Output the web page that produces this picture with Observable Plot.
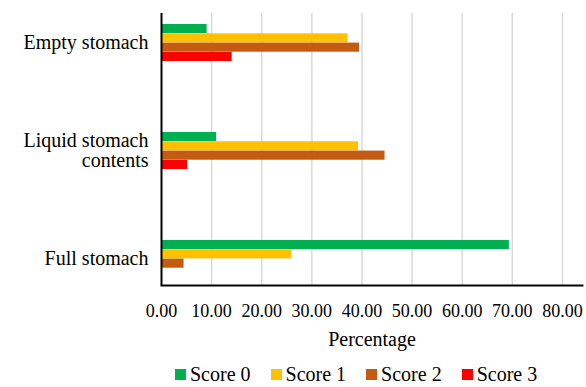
<!DOCTYPE html>
<html>
<head>
<meta charset="utf-8">
<script src="https://cdn.jsdelivr.net/npm/d3@7"></script>
<script src="https://cdn.jsdelivr.net/npm/@observablehq/plot@0.6"></script>
<style>
  body { margin: 0; background: #fff; font-family: "Liberation Serif", "Times New Roman", Tinos, "DejaVu Serif", serif; }
  #chart { width: 586px; }
  .legend { display: flex; align-items: center; height: 25px; padding-left: 175px; gap: 20px; font-size: 20px; color: #000; }
  .legend .item { display: flex; align-items: center; }
  .legend .sw { width: 11px; height: 11px; margin-right: 4px; }
</style>
</head>
<body>
<div id="chart"></div>
<script>
// Stomach state categories and the share (%) of each score within them
const categories = ["Empty stomach", "Liquid stomach\ncontents", "Full stomach"];
const seriesNames = ["Score 0", "Score 1", "Score 2", "Score 3"];
const seriesColors = ["#00b050", "#ffc000", "#c55a11", "#ff0000"];
const score0 = [9.1, 11.0, 69.4];
const score1 = [37.2, 39.3, 26.0];
const score2 = [39.5, 44.6, 4.5];
const score3 = [14.1, 5.2, 0];
const xTicks = [0, 10, 20, 30, 40, 50, 60, 70, 80];

const seriesValues = [score0, score1, score2, score3];
const rows = seriesNames.flatMap((s, i) =>
  categories.map((c, j) => ({category: c, series: s, value: seriesValues[i][j]}))
);

const serif = "'Liberation Serif', 'Times New Roman', Tinos, 'DejaVu Serif', serif";

// Band layout: each category band holds four bars side by side
const yRange = [24, 277.5];
const paddingInner = 0.656;
const bandwidth = (yRange[1] - yRange[0]) / (categories.length - paddingInner) * (1 - paddingInner);
const barH = bandwidth / seriesNames.length;

const bars = seriesNames.map((s, i) =>
  Plot.barX(rows.filter(d => d.series === s), {
    x: "value",
    y: "category",
    fill: "series",
    insetTop: i * barH,
    insetBottom: (seriesNames.length - 1 - i) * barH
  })
);

const chart = Plot.plot({
  width: 586,
  height: 362,
  marginTop: 13,
  marginBottom: 77,
  marginLeft: 161,
  marginRight: 4,
  style: {fontFamily: serif, fontSize: "17px", color: "#000", background: "#fff"},
  x: {domain: [0, 84]},
  y: {domain: categories, range: yRange, paddingInner, paddingOuter: 0},
  color: {domain: seriesNames, range: seriesColors},
  marks: [
    Plot.gridX(xTicks.filter(d => d > 0), {stroke: "#d9d9d9", strokeOpacity: 1, strokeWidth: 1.5}),
    ...bars,
    Plot.ruleX([0], {stroke: "#000", strokeWidth: 2}),
    Plot.frame({anchor: "bottom", stroke: "#000", strokeWidth: 2}),
    Plot.axisY({tickSize: 0, tickPadding: 13, fontSize: 20, fontFamily: serif, lineHeight: 1, label: null}),
    Plot.axisX({ticks: xTicks, tickSize: 0, tickPadding: 19, tickFormat: d3.format(".2f"), fontSize: 18, fontFamily: serif, label: null}),
    Plot.axisX({ticks: [], label: "Percentage", labelAnchor: "center", labelArrow: "none", labelOffset: 60, fontSize: 20, fontFamily: serif, dx: 4})
  ]
});
document.getElementById("chart").appendChild(chart);

// Legend below the plot
const legend = document.createElement("div");
legend.className = "legend";
seriesNames.forEach((s, i) => {
  const item = document.createElement("div");
  item.className = "item";
  const sw = document.createElement("span");
  sw.className = "sw";
  sw.style.background = seriesColors[i];
  const label = document.createElement("span");
  label.textContent = s;
  item.append(sw, label);
  legend.appendChild(item);
});
document.getElementById("chart").appendChild(legend);
</script>
</body>
</html>
